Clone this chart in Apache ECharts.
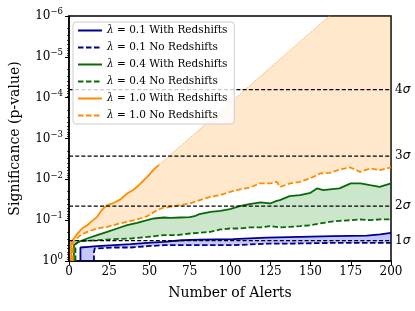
<!DOCTYPE html>
<html><head><meta charset="utf-8">
<script src="https://cdn.jsdelivr.net/npm/echarts@6/dist/echarts.min.js"></script>
<style>html,body{margin:0;padding:0;background:#fff}#c{width:415px;height:311px}</style>
</head><body><div id="c"></div>
<script>
// ---- data: [number of alerts, p-value] ----
const blueWith = [[7.1,1],[7.1,0.467],[12,0.45],[17.5,0.434],[27.9,0.410],[38.2,0.388],[48.6,0.360],[59,0.340],[70,0.31],[81.3,0.301],[101.9,0.292],[122.8,0.269],[143.5,0.257],[164.1,0.247],[185,0.240],[193.3,0.224],[200,0.205]];
const blueNo = [[15.5,1],[15.5,0.6],[16,0.494],[27.9,0.467],[38.2,0.467],[48.6,0.434],[59,0.410],[81.3,0.410],[101.9,0.410],[122.8,0.377],[143.5,0.372],[164.1,0.360],[185,0.360],[200,0.360]];
const greenWith = [[3,1],[3,0.41],[6.1,0.34],[11.3,0.281],[17.5,0.233],[23.7,0.194],[29.9,0.160],[36.1,0.133],[42.3,0.116],[48.6,0.100],[52.7,0.091],[59,0.086],[63,0.088],[69,0.086],[75,0.084],[78,0.080],[81,0.0713],[88,0.0626],[94,0.0592],[100,0.0537],[106,0.0454],[112,0.0405],[119,0.0368],[125,0.0390],[129,0.0336],[131,0.0323],[137,0.0258],[143.5,0.0244],[150,0.0214],[154,0.0167],[158,0.0184],[162,0.0177],[168,0.0167],[175,0.0126],[181,0.0126],[187,0.0139],[193,0.0153],[200,0.0126]];
const greenNo = [[4,1],[4,0.372],[7.2,0.327],[17.5,0.309],[27.9,0.292],[38.2,0.281],[48.6,0.257],[59,0.233],[67,0.233],[75,0.212],[87.6,0.194],[94,0.169],[100,0.160],[106,0.160],[112,0.151],[119,0.151],[125,0.140],[131,0.150],[137,0.146],[143.5,0.140],[150,0.133],[156,0.120],[162,0.110],[168,0.104],[175,0.100],[181,0.0961],[187,0.100],[193,0.0961],[200,0.0961]];
const orangeWith = [[1.3,1],[1.3,0.34],[3,0.281],[5,0.22],[8.1,0.16],[11.3,0.133],[14.4,0.104],[17.5,0.083],[20.6,0.0549],[23.7,0.0429],[27.9,0.0376],[32,0.031],[36.1,0.0222],[40.3,0.0177],[44.5,0.0126],[48.6,0.00868],[52.7,0.00572],[55.8,0.00446]];
const orangeWithTail = [[55.8,0.00446],[200,4.8e-8]];
const orangeNo = [[2.4,1],[2.4,0.366],[4,0.297],[7.2,0.233],[11.3,0.194],[17.5,0.160],[23.7,0.146],[29.9,0.125],[36.1,0.110],[42.3,0.096],[48.6,0.080],[54.8,0.0567],[59,0.0489],[63,0.0472],[69,0.0429],[75,0.0390],[81.3,0.0323],[87.6,0.0269],[93.8,0.0244],[100,0.0202],[106.2,0.0177],[112.4,0.0158],[118.7,0.0126],[124.9,0.0126],[129,0.0115],[131.1,0.0153],[137.3,0.0126],[143.5,0.0115],[149.8,0.0095],[156,0.00716],[162.2,0.00693],[168.4,0.00572],[174.6,0.00511],[180.8,0.00655],[187.1,0.0054],[193.3,0.00595],[200,0.00511]];
const sigmaP = [0.3173, 0.0455, 0.0027, 6.33e-5];
const sigmaN = ['1', '2', '3', '4'];
const seriesNames = ['λ = 0.1 With Redshifts','λ = 0.1 No Redshifts','λ = 0.4 With Redshifts','λ = 0.4 No Redshifts','λ = 1.0 With Redshifts','λ = 1.0 No Redshifts'];
const xTicks = {min:0, max:200, interval:25};
const yDecades = [-6, -5, -4, -3, -2, -1, 0];
const minorMult = [2, 3, 4, 5, 6, 7, 8, 9];

const serif = "'DejaVu Serif', 'Liberation Serif', serif";
const C = {blue:'#00008b', green:'#0a680a', orange:'#ff8c00'};
const F = {blue:'rgba(0,0,255,0.22)', green:'rgba(0,128,0,0.2)', orange:'rgba(255,140,0,0.2)'};
const minorVals = [];
yDecades.slice(0, -1).forEach(e => minorMult.forEach(m => minorVals.push(m * Math.pow(10, e))));

function fillSeries(upper, lower, color){
  const poly = upper.concat(lower.slice().reverse());
  return {type:'custom', silent:true, z:1, animation:false, data:[[100,0.5]],
    renderItem:(params, api)=>{
      const cs = params.coordSys;
      return {type:'polygon', shape:{points: poly.map(d=>api.coord(d))}, style:{fill:color},
        clipPath:{type:'rect', shape:{x:cs.x, y:cs.y, width:cs.width, height:cs.height}}};
    }};
}
function lineSeries(name, data, color, dashed){
  return {name, type:'line', data, symbol:'none', z:3, animation:false, silent:true,
    lineStyle:{color, width:1.8, type: dashed ? [5.5,2.5] : 'solid'}, itemStyle:{color}};
}
const series = [
  fillSeries(blueWith, blueNo, F.blue),
  fillSeries(greenWith, greenNo, F.green),
  fillSeries(orangeWith.concat(orangeWithTail.slice(1)), orangeNo, F.orange),
  lineSeries(seriesNames[0], blueWith, C.blue, false),
  lineSeries(seriesNames[1], blueNo, C.blue, true),
  lineSeries(seriesNames[2], greenWith, C.green, false),
  lineSeries(seriesNames[3], greenNo, C.green, true),
  lineSeries(seriesNames[4], orangeWith, C.orange, false),
  lineSeries(seriesNames[5], orangeNo, C.orange, true),
  {type:'line', data: orangeWithTail, symbol:'none', z:2, silent:true, animation:false,
   lineStyle:{color:'#ffa54a', width:0.8, type:[1.5,1]}}
];
sigmaP.forEach((p,i)=>{
  series.push({type:'line', data:[[xTicks.min,p],[xTicks.max,p]], symbol:'none', z:3, silent:true, animation:false,
    lineStyle:{color:'#000', width:1.3, type:[4,2.2]},
    endLabel:{show:true, formatter:'{n|'+sigmaN[i]+'}{g|σ}', distance:4,
      rich:{n:{fontFamily:serif, fontSize:12, color:'#000'}, g:{fontFamily:"'DejaVu Sans', sans-serif", fontStyle:'italic', fontSize:12, color:'#000'}}}});
});

const chart = echarts.init(document.getElementById('c'), null, {renderer:'canvas'});
chart.setOption({
  animation:false,
  grid:{left:69, right:24, top:16, bottom:50, show:true, borderColor:'#000', borderWidth:1.5, outerBoundsMode:'none', containLabel:false},
  legend:{data:seriesNames, orient:'vertical', left:73, top:22, z:10,
    itemWidth:24, itemHeight:10, itemGap:6, padding:[3,7,3,4],
    itemStyle:{color:'rgba(0,0,0,0)', borderColor:'rgba(0,0,0,0)', borderWidth:0, opacity:0},
    backgroundColor:'rgba(255,255,255,0.8)', borderColor:'#cccccc', borderWidth:1, borderRadius:3,
    formatter:n=>'{i|λ}{t|'+n.slice(1)+'}',
    textStyle:{fontFamily:serif, fontSize:10.5, color:'#000',
      rich:{i:{fontFamily:serif, fontStyle:'italic', fontSize:10.5, color:'#000'}, t:{fontFamily:serif, fontSize:10.5, color:'#000'}}}},
  xAxis:{type:'value', min:xTicks.min, max:xTicks.max, interval:xTicks.interval,
    axisLine:{show:true, onZero:false, lineStyle:{color:'#000', width:1.5}},
    axisTick:{show:true, inside:false, length:4, lineStyle:{color:'#000', width:1}},
    axisLabel:{color:'#000', fontFamily:serif, fontSize:12, margin:5, showMinLabel:true, showMaxLabel:true},
    splitLine:{show:false},
    name:'Number of Alerts', nameLocation:'middle', nameGap:25,
    nameTextStyle:{fontFamily:serif, fontSize:14, color:'#000'}},
  yAxis:[{type:'log', logBase:10, min:1e-6, max:1, inverse:true, splitNumber:6,
    axisLine:{show:true, onZero:false, lineStyle:{color:'#000', width:1.5}},
    axisTick:{show:true, inside:false, length:4, lineStyle:{color:'#000', width:1}},
    splitLine:{show:false},
    axisLabel:{color:'#000', margin:6, showMinLabel:true, showMaxLabel:true,
      formatter:v=>{const e=Math.round(Math.log10(v)); return '{b|10}{s|'+(e<0?'\u2212'+(-e):e)+'}';},
      rich:{b:{fontFamily:serif, fontSize:12, color:'#000'}, s:{fontFamily:serif, fontSize:8.5, color:'#000', padding:[0,0,8,0]}}},
    name:'Significance (p-value)', nameLocation:'middle', nameGap:47, nameRotate:90,
    nameTextStyle:{fontFamily:serif, fontSize:14, color:'#000'}},
   {type:'log', logBase:10, min:1e-6, max:1, inverse:true, position:'left', offset:0,
    axisLine:{show:false}, axisLabel:{show:false}, splitLine:{show:false},
    axisTick:{show:true, inside:false, length:2, customValues:minorVals, lineStyle:{color:'#000', width:0.7}}}],
  series
});
</script></body></html>
